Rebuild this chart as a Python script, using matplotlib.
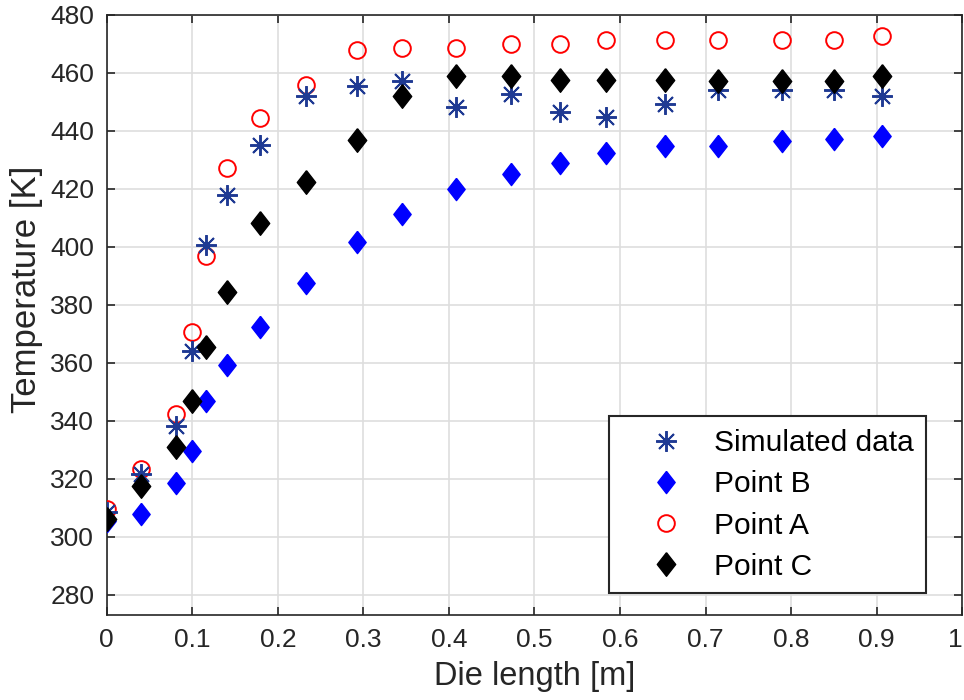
import numpy as np
import matplotlib
matplotlib.use('Agg')
import matplotlib.pyplot as plt

plt.rcParams['font.family'] = ['Liberation Sans', 'DejaVu Sans']

# die length positions [m]
die_length = [0, 0.04, 0.081, 0.1, 0.116, 0.141, 0.179, 0.233, 0.293, 0.345,
              0.408, 0.473, 0.530, 0.584, 0.652, 0.715, 0.789, 0.850, 0.906]

# temperatures [K]
simulated = [308.5, 321.8, 338.1, 364.2, 400.7, 417.8, 435.1, 451.9, 455.6, 457.1,
             448.1, 452.7, 446.7, 444.8, 449.3, 454.2, 454.2, 454.2, 452.1]
point_a = [309.5, 323.3, 342.2, 370.7, 397.0, 427.3, 444.4, 455.7, 468.0, 468.7,
           468.5, 470.1, 470.0, 471.4, 471.4, 471.4, 471.4, 471.4, 472.9]
point_b = [305.5, 307.7, 318.6, 329.6, 346.8, 359.2, 372.2, 387.4, 401.6, 411.5,
           419.8, 425.3, 428.8, 432.3, 434.9, 434.9, 436.4, 437.2, 438.4]
point_c = [306.2, 317.4, 331.0, 346.9, 365.6, 384.6, 408.2, 422.5, 436.9, 452.0,
           459.0, 459.0, 457.7, 457.7, 457.5, 457.1, 457.1, 457.1, 459.0]

xticks = np.arange(0, 1.01, 0.1)
xtick_labels = ['0', '0.1', '0.2', '0.3', '0.4', '0.5', '0.6', '0.7', '0.8', '0.9', '1']
yticks = np.arange(280, 481, 20)

dark = '#262626'
diamond = [(0, 1), (0.78, 0), (0, -1), (-0.78, 0), (0, 1)]
asterisk = (8, 2, 0)

fig = plt.figure(figsize=(9.64, 7), dpi=100)
ax = fig.add_axes([0.1107, 0.1214, 0.8875, 0.8572])

h_a, = ax.plot(die_length, point_a, linestyle='none', marker='o', ms=12,
               mfc='none', mec='red', mew=1.4, zorder=3, label='Point A')
h_sim, = ax.plot(die_length, simulated, linestyle='none', marker=asterisk, ms=15,
                 color='#1f3a93', mew=1.4, zorder=4, label='Simulated data')
h_b, = ax.plot(die_length, point_b, linestyle='none', marker=diamond, ms=16,
               color='blue', mec='blue', zorder=5, label='Point B')
h_c, = ax.plot(die_length, point_c, linestyle='none', marker=diamond, ms=17,
               color='black', mec='black', zorder=6, label='Point C')

ax.set_xlim(0, 1)
ax.set_ylim(273, 480)
ax.set_xticks(xticks)
ax.set_xticklabels(xtick_labels)
ax.get_xticklabels()[-1].set_horizontalalignment('right')
ax.set_yticks(yticks)

ax.grid(True, color='#dedede', linewidth=1.2)
ax.set_axisbelow(True)
for s in ax.spines.values():
    s.set_color(dark)
    s.set_linewidth(1.2)
ax.tick_params(direction='in', length=6, width=1.2, colors=dark,
               top=True, right=True, labelsize=19, pad=9)

ax.set_xlabel('Die length [m]', fontsize=23.5, color=dark, labelpad=7)
ax.set_ylabel('Temperature [K]', fontsize=25, color=dark)
ax.yaxis.set_label_coords(-0.074, 0.542)

leg = ax.legend(handles=[h_sim, h_b, h_a, h_c], loc='lower right',
                bbox_to_anchor=(0.9576, 0.036), fontsize=21.5, frameon=True,
                fancybox=False, edgecolor=dark, framealpha=1,
                borderpad=0.42, labelspacing=0.445, handlelength=2.97,
                handletextpad=0.12, borderaxespad=0)
leg.get_frame().set_linewidth(1.5)

fig.savefig('out.png', dpi=100)
